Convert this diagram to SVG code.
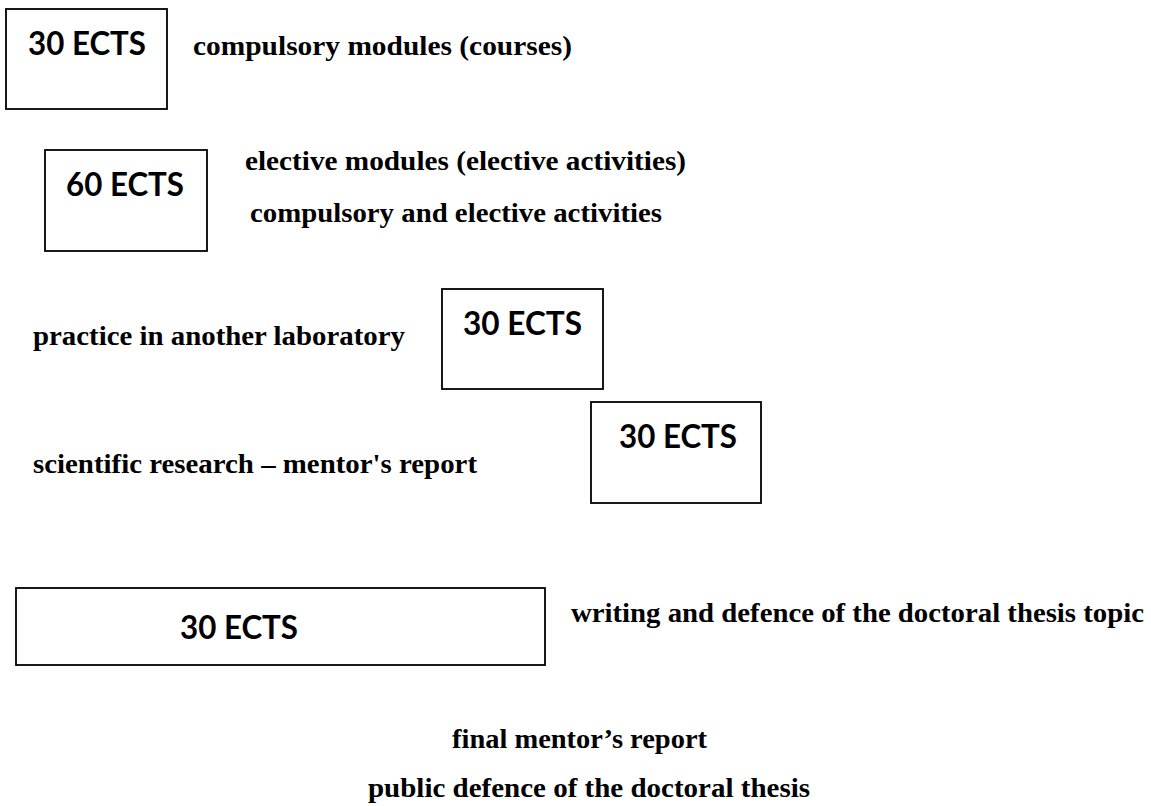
<svg xmlns="http://www.w3.org/2000/svg" width="1151" height="806" viewBox="0 0 1151 806">
<style>
.box{fill:#fff;stroke:#000;stroke-width:1.8}
.ects{font-family:Lato,"Liberation Sans",Arial,sans-serif;font-weight:bold;font-size:32px;fill:#000}
.lbl{font-family:"Liberation Serif","Times New Roman",serif;font-weight:bold;font-size:26.7px;fill:#000}
</style>
<rect width="1151" height="806" fill="#fff"/>
<g id="node1">
<rect class="box" x="6" y="9" width="161" height="100"/>
<text class="ects" x="28" y="55" textLength="118" lengthAdjust="spacingAndGlyphs">30 ECTS</text>
</g>
<text class="lbl" x="193" y="55" textLength="379" lengthAdjust="spacingAndGlyphs">compulsory modules (courses)</text>
<g id="node2">
<rect class="box" x="45" y="150" width="162" height="101"/>
<text class="ects" x="66" y="196" textLength="118" lengthAdjust="spacingAndGlyphs">60 ECTS</text>
</g>
<text class="lbl" x="245" y="170" textLength="441" lengthAdjust="spacingAndGlyphs">elective modules (elective activities)</text>
<text class="lbl" x="250" y="222" textLength="412" lengthAdjust="spacingAndGlyphs">compulsory and elective activities</text>
<g id="node3">
<rect class="box" x="442" y="289" width="161" height="100"/>
<text class="ects" x="463" y="335" textLength="119" lengthAdjust="spacingAndGlyphs">30 ECTS</text>
</g>
<text class="lbl" x="33" y="345" textLength="372" lengthAdjust="spacingAndGlyphs">practice in another laboratory</text>
<g id="node4">
<rect class="box" x="591" y="402" width="170" height="101"/>
<text class="ects" x="619" y="448" textLength="118" lengthAdjust="spacingAndGlyphs">30 ECTS</text>
</g>
<text class="lbl" x="33" y="473" textLength="444" lengthAdjust="spacingAndGlyphs">scientific research – mentor's report</text>
<g id="node5">
<rect class="box" x="16" y="588" width="529" height="77"/>
<text class="ects" x="180" y="639" textLength="118" lengthAdjust="spacingAndGlyphs">30 ECTS</text>
</g>
<text class="lbl" x="571" y="622" textLength="573" lengthAdjust="spacingAndGlyphs">writing and defence of the doctoral thesis topic</text>
<text class="lbl" x="452" y="748" textLength="255" lengthAdjust="spacingAndGlyphs">final mentor’s report</text>
<text class="lbl" x="368" y="797" textLength="442" lengthAdjust="spacingAndGlyphs">public defence of the doctoral thesis</text>
<g id="connectors"/>
</svg>
